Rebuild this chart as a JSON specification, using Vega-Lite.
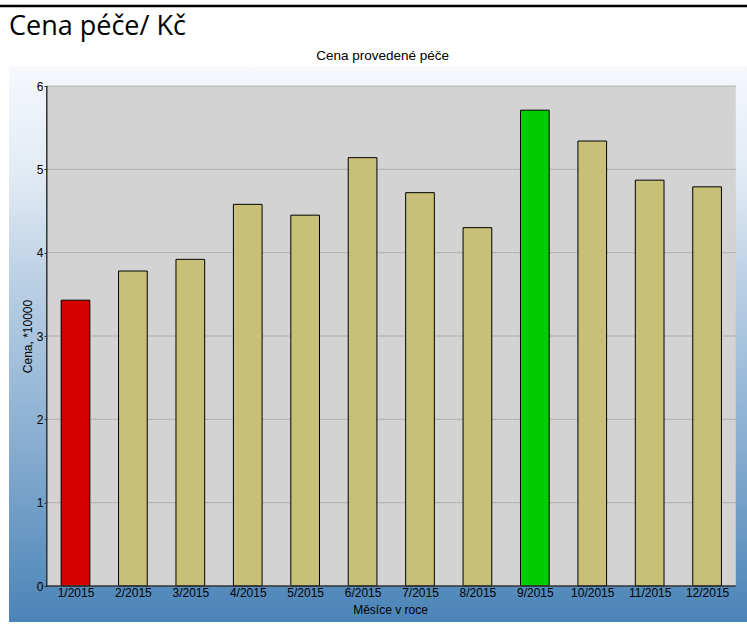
{
  "$schema": "https://vega.github.io/schema/vega-lite/v6.json",
  "autosize": "none",
  "width": 738,
  "height": 556,
  "padding": {"left": 9, "top": 66, "right": 0, "bottom": 2},
  "background": "#ffffff",
  "config": {
    "view": {
      "stroke": null,
      "fill": {
        "gradient": "linear",
        "x1": 0, "y1": 0, "x2": 0, "y2": 1,
        "stops": [
          {"offset": 0, "color": "#f6f8fc"},
          {"offset": 0.2, "color": "#e1eaf4"},
          {"offset": 0.38, "color": "#bcd1e5"},
          {"offset": 0.69, "color": "#86acd0"},
          {"offset": 1, "color": "#4a84b7"}
        ]
      }
    },
    "axis": {"labelFont": "Liberation Sans", "titleFont": "Liberation Sans", "labelColor": "#000000", "titleColor": "#000000"}
  },
  "datasets": {
    "ceny": [
      {"poradi": 1, "mesic": "1/2015", "cena": 3.43, "typ": "nejnižší"},
      {"poradi": 2, "mesic": "2/2015", "cena": 3.78, "typ": "ostatní"},
      {"poradi": 3, "mesic": "3/2015", "cena": 3.92, "typ": "ostatní"},
      {"poradi": 4, "mesic": "4/2015", "cena": 4.58, "typ": "ostatní"},
      {"poradi": 5, "mesic": "5/2015", "cena": 4.45, "typ": "ostatní"},
      {"poradi": 6, "mesic": "6/2015", "cena": 5.14, "typ": "ostatní"},
      {"poradi": 7, "mesic": "7/2015", "cena": 4.72, "typ": "ostatní"},
      {"poradi": 8, "mesic": "8/2015", "cena": 4.30, "typ": "ostatní"},
      {"poradi": 9, "mesic": "9/2015", "cena": 5.71, "typ": "nejvyšší"},
      {"poradi": 10, "mesic": "10/2015", "cena": 5.34, "typ": "ostatní"},
      {"poradi": 11, "mesic": "11/2015", "cena": 4.87, "typ": "ostatní"},
      {"poradi": 12, "mesic": "12/2015", "cena": 4.79, "typ": "ostatní"}
    ],
    "mrizka": [{"v": 1}, {"v": 2}, {"v": 3}, {"v": 4}, {"v": 5}, {"v": 6}],
    "nadpisy": [{"nadpis": "Cena péče/ Kč", "podnadpis": "Cena provedené péče"}]
  },
  "layer": [
    {
      "data": {"values": [{}]},
      "mark": {"type": "rect", "color": "#d3d3d3"},
      "encoding": {
        "x": {"datum": 0.5, "type": "quantitative"},
        "x2": {"datum": 12.5},
        "y": {"datum": 0, "type": "quantitative"},
        "y2": {"datum": 6}
      }
    },
    {
      "data": {"name": "mrizka"},
      "mark": {"type": "rule", "color": "#8c8c8c", "strokeWidth": 1, "strokeDash": [1, 1]},
      "encoding": {
        "y": {"field": "v", "type": "quantitative"},
        "x": {"datum": 0.5, "type": "quantitative"},
        "x2": {"datum": 12.5}
      }
    },
    {
      "data": {"name": "ceny"},
      "mark": {"type": "bar", "orient": "vertical", "width": 28.7, "stroke": "#000000", "strokeWidth": 1},
      "encoding": {
        "x": {
          "field": "poradi", "type": "quantitative",
          "scale": {"domain": [-0.158, 12.695], "nice": false, "zero": false, "padding": 0},
          "axis": {
            "orient": "bottom", "offset": -36, "values": [1,2,3,4,5,6,7,8,9,10,11,12],
            "labelExpr": "datum.value + '/2015'", "labelFontSize": 12, "labelPadding": 1,
            "ticks": false, "tickSize": 0, "domain": false, "grid": false,
            "title": "Měsíce v roce", "titleFontSize": 12, "titleFontWeight": "normal",
            "titleX": 381, "titleY": 27, "titleBaseline": "alphabetic", "titleAlign": "center"
          }
        },
        "y": {
          "field": "cena", "type": "quantitative",
          "scale": {"domain": [-0.432, 6.24], "nice": false, "zero": false, "padding": 0},
          "axis": {
            "orient": "left", "offset": -38, "values": [0,1,2,3,4,5,6], "format": "d",
            "labelFontSize": 12, "labelPadding": 1, "tickSize": 3, "tickColor": "#333333",
            "domain": false, "grid": false,
            "title": "Cena, *10000", "titleFontSize": 12, "titleFontWeight": "normal",
            "titleX": -20, "titleY": 270, "titleAngle": 270, "titleBaseline": "middle", "titleAlign": "center"
          }
        },
        "y2": {"datum": 0},
        "color": {
          "field": "typ", "type": "nominal",
          "scale": {"domain": ["nejnižší", "nejvyšší", "ostatní"], "range": ["#d40000", "#00cc00", "#c8c078"]},
          "legend": null
        }
      }
    },
    {
      "data": {"values": [{}]},
      "mark": {"type": "rule", "color": "#333333", "strokeWidth": 1.5},
      "encoding": {
        "x": {"datum": 0.5, "type": "quantitative"},
        "y": {"datum": 0, "type": "quantitative"},
        "y2": {"datum": 6}
      }
    },
    {
      "data": {"values": [{}]},
      "mark": {"type": "rule", "color": "#333333", "strokeWidth": 1.5},
      "encoding": {
        "y": {"datum": 0, "type": "quantitative"},
        "x": {"datum": 0.5, "type": "quantitative"},
        "x2": {"datum": 12.5}
      }
    },
    {
      "data": {"values": [{}]},
      "mark": {"type": "rule", "color": "#000000", "strokeWidth": 2.5},
      "encoding": {
        "y": {"datum": 6.96, "type": "quantitative"},
        "x": {"datum": -0.32, "type": "quantitative"},
        "x2": {"datum": 12.7}
      }
    },
    {
      "data": {"name": "nadpisy"},
      "mark": {"type": "text", "font": "Open Sans", "fontSize": 27, "align": "left", "baseline": "alphabetic", "color": "#000000"},
      "encoding": {
        "text": {"field": "nadpis"},
        "x": {"datum": -0.158, "type": "quantitative"},
        "y": {"datum": 6.61, "type": "quantitative"}
      }
    },
    {
      "data": {"name": "nadpisy"},
      "mark": {"type": "text", "font": "Liberation Sans", "fontSize": 13.5, "align": "center", "baseline": "alphabetic", "color": "#000000"},
      "encoding": {
        "text": {"field": "podnadpis"},
        "x": {"datum": 6.35, "type": "quantitative"},
        "y": {"datum": 6.312, "type": "quantitative"}
      }
    }
  ]
}
